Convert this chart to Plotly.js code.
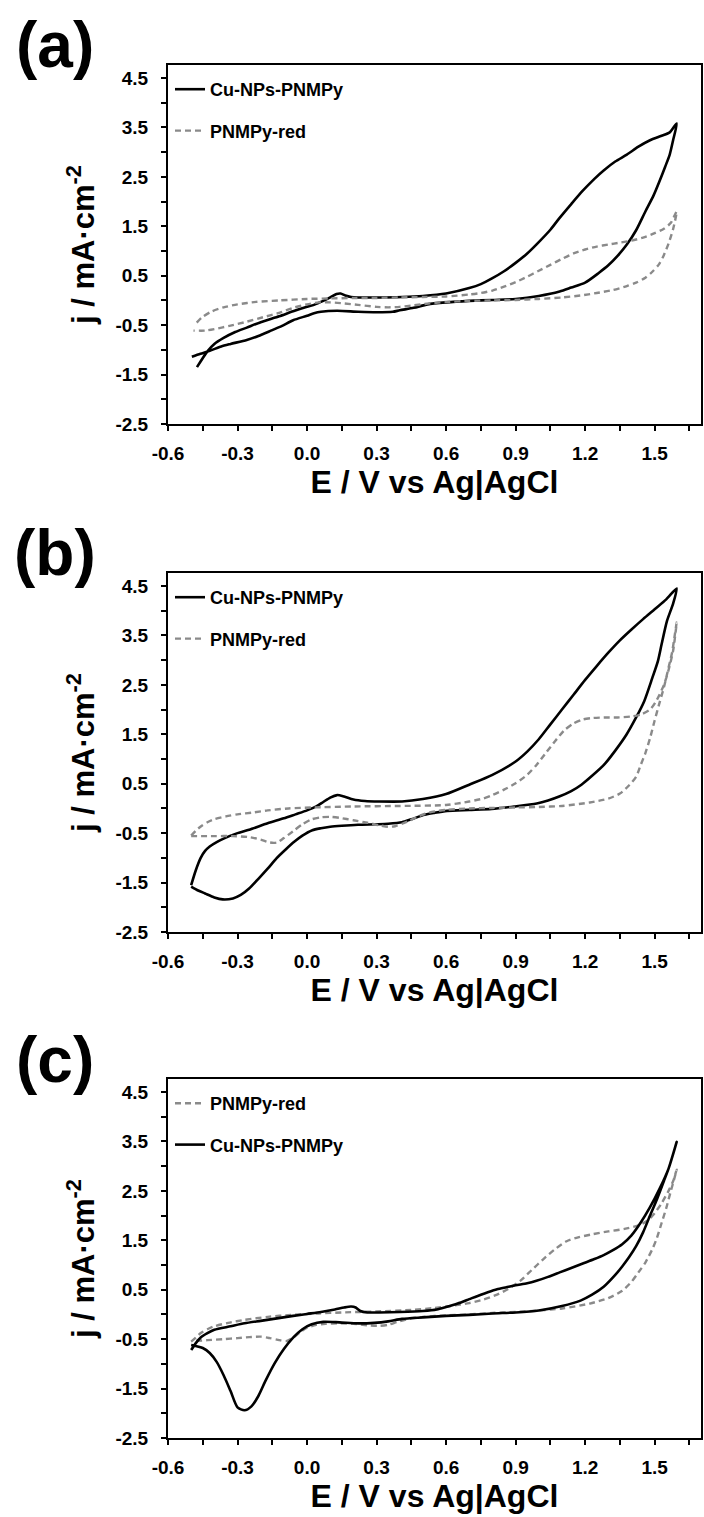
<!DOCTYPE html>
<html><head><meta charset="utf-8">
<script src="https://cdn.plot.ly/plotly-3.0.1.min.js"></script>
<style>html,body{margin:0;padding:0;background:#fff;}#chart{width:704px;height:1517px;}</style>
</head><body><div id="chart"></div>
<script>
// ---------- DATA ----------
const xTickVals = [-0.6, -0.3, 0.0, 0.3, 0.6, 0.9, 1.2, 1.5];
const xTickText = ['-0.6', '-0.3', '0.0', '0.3', '0.6', '0.9', '1.2', '1.5'];
const yTickVals = [-2.5, -1.5, -0.5, 0.5, 1.5, 2.5, 3.5, 4.5];
const yTickText = ['-2.5', '-1.5', '-0.5', '0.5', '1.5', '2.5', '3.5', '4.5'];
const panelLabels = ['(a)', '(b)', '(c)'];
const seriesNames = ['Cu-NPs-PNMPy', 'PNMPy-red'];
const xTitle = 'E / V vs Ag|AgCl';
const yTitle = 'j / mA\u00b7cm<sup>-2</sup>';

// Panel (a) Cu-NPs-PNMPy
const aCuE = [-0.475,-0.43,-0.40,-0.36,-0.31,-0.26,-0.20,-0.12,-0.06,0.00,0.03,0.07,0.10,0.127,0.145,0.165,0.19,0.22,0.30,0.41,0.50,0.60,0.70,0.75,0.80,0.85,0.90,0.95,1.00,1.05,1.09,1.14,1.19,1.24,1.28,1.33,1.38,1.43,1.48,1.53,1.565,1.595,
  1.58,1.565,1.545,1.52,1.495,1.46,1.42,1.38,1.34,1.30,1.26,1.20,1.14,1.09,1.00,0.90,0.80,0.70,0.60,0.52,0.46,0.40,0.37,0.30,0.22,0.13,0.06,0.03,0.00,-0.06,-0.11,-0.15,-0.21,-0.26,-0.33,-0.37,-0.42,-0.46,-0.497];
const aCuJ = [-1.35,-1.03,-0.88,-0.76,-0.64,-0.55,-0.44,-0.32,-0.22,-0.13,-0.09,-0.01,0.06,0.13,0.14,0.10,0.07,0.06,0.06,0.07,0.09,0.14,0.25,0.33,0.45,0.59,0.76,0.95,1.18,1.43,1.67,1.95,2.22,2.46,2.63,2.81,2.95,3.11,3.24,3.33,3.40,3.58,
  3.25,2.95,2.70,2.40,2.12,1.80,1.42,1.13,0.90,0.71,0.56,0.36,0.26,0.18,0.09,0.03,0.01,-0.01,-0.04,-0.08,-0.15,-0.20,-0.23,-0.24,-0.23,-0.21,-0.23,-0.26,-0.31,-0.40,-0.52,-0.60,-0.72,-0.80,-0.88,-0.93,-1.02,-1.08,-1.14];
// Panel (a) PNMPy-red
const aRedE = [-0.476,-0.45,-0.41,-0.36,-0.30,-0.22,-0.12,0.00,0.10,0.20,0.30,0.40,0.50,0.60,0.70,0.75,0.80,0.85,0.90,0.95,1.00,1.05,1.10,1.15,1.20,1.25,1.30,1.35,1.40,1.45,1.50,1.54,1.57,1.595,
  1.58,1.56,1.54,1.52,1.49,1.46,1.42,1.38,1.32,1.25,1.18,1.10,1.00,0.90,0.80,0.70,0.60,0.53,0.46,0.40,0.35,0.30,0.22,0.16,0.10,0.05,0.00,-0.06,-0.12,-0.19,-0.26,-0.33,-0.40,-0.44,-0.49];
const aRedJ = [-0.45,-0.33,-0.22,-0.14,-0.08,-0.03,0.00,0.03,0.04,0.05,0.05,0.06,0.07,0.08,0.12,0.15,0.20,0.28,0.37,0.48,0.60,0.72,0.84,0.95,1.03,1.09,1.13,1.17,1.21,1.27,1.36,1.45,1.57,1.80,
  1.45,1.15,0.92,0.74,0.58,0.46,0.36,0.29,0.21,0.15,0.10,0.06,0.03,0.01,0.00,-0.01,-0.03,-0.06,-0.10,-0.13,-0.14,-0.13,-0.09,-0.06,-0.04,-0.04,-0.08,-0.15,-0.25,-0.34,-0.43,-0.51,-0.58,-0.61,-0.61];

// Panel (b) Cu-NPs-PNMPy
const bCuE = [-0.50,-0.48,-0.46,-0.44,-0.42,-0.39,-0.36,-0.30,-0.25,-0.17,-0.10,-0.05,0.00,0.04,0.07,0.10,0.13,0.16,0.20,0.25,0.31,0.41,0.50,0.60,0.70,0.80,0.90,0.95,1.00,1.05,1.10,1.15,1.20,1.25,1.30,1.35,1.40,1.45,1.50,1.55,1.595,
  1.58,1.553,1.53,1.514,1.49,1.455,1.42,1.378,1.33,1.281,1.23,1.184,1.14,1.088,1.04,0.991,0.894,0.797,0.70,0.604,0.55,0.507,0.45,0.41,0.35,0.30,0.22,0.15,0.10,0.06,0.023,-0.02,-0.054,-0.09,-0.132,-0.17,-0.209,-0.25,-0.286,-0.32,-0.364,-0.40,-0.44,-0.47,-0.50];
const bCuJ = [-1.55,-1.25,-1.01,-0.86,-0.77,-0.68,-0.61,-0.50,-0.43,-0.30,-0.20,-0.12,-0.04,0.04,0.13,0.22,0.27,0.24,0.18,0.15,0.14,0.14,0.19,0.29,0.48,0.68,0.95,1.15,1.40,1.70,2.00,2.30,2.60,2.88,3.15,3.40,3.62,3.83,4.03,4.23,4.45,
  4.15,3.79,3.32,2.98,2.64,2.17,1.84,1.49,1.17,0.88,0.66,0.48,0.35,0.24,0.16,0.10,0.04,-0.01,-0.03,-0.05,-0.09,-0.13,-0.22,-0.28,-0.31,-0.32,-0.33,-0.35,-0.37,-0.40,-0.44,-0.55,-0.67,-0.82,-1.01,-1.22,-1.42,-1.62,-1.75,-1.82,-1.84,-1.80,-1.72,-1.66,-1.58];
// Panel (b) PNMPy-red
const bRedE = [-0.50,-0.48,-0.46,-0.43,-0.40,-0.35,-0.30,-0.23,-0.17,-0.08,0.02,0.20,0.40,0.60,0.70,0.76,0.80,0.85,0.90,0.95,0.99,1.03,1.07,1.11,1.15,1.19,1.23,1.28,1.34,1.40,1.44,1.48,1.51,1.54,1.56,1.58,1.595,
  1.585,1.575,1.56,1.54,1.52,1.50,1.48,1.46,1.44,1.42,1.39,1.35,1.30,1.22,1.10,1.00,0.90,0.80,0.70,0.60,0.53,0.48,0.44,0.41,0.38,0.35,0.31,0.26,0.20,0.14,0.10,0.06,0.02,-0.02,-0.06,-0.10,-0.13,-0.16,-0.20,-0.25,-0.32,-0.40,-0.50];
const bRedJ = [-0.55,-0.45,-0.37,-0.28,-0.22,-0.16,-0.12,-0.08,-0.04,0.00,0.02,0.04,0.05,0.07,0.14,0.20,0.27,0.38,0.51,0.68,0.88,1.12,1.36,1.58,1.72,1.80,1.83,1.84,1.84,1.86,1.90,2.00,2.20,2.50,2.80,3.20,3.76,
  3.45,3.15,2.85,2.45,2.12,1.78,1.42,1.12,0.88,0.64,0.47,0.30,0.20,0.12,0.05,0.03,0.02,0.01,0.00,-0.03,-0.08,-0.16,-0.25,-0.31,-0.36,-0.37,-0.34,-0.29,-0.24,-0.19,-0.17,-0.18,-0.22,-0.32,-0.46,-0.60,-0.69,-0.69,-0.63,-0.58,-0.56,-0.56,-0.56];

// Panel (c) Cu-NPs-PNMPy
const cCuE = [-0.50,-0.48,-0.46,-0.43,-0.40,-0.33,-0.27,-0.20,-0.13,-0.06,0.00,0.06,0.12,0.16,0.19,0.21,0.23,0.26,0.31,0.40,0.50,0.56,0.60,0.65,0.70,0.75,0.78,0.82,0.86,0.90,0.95,0.99,1.04,1.09,1.14,1.19,1.24,1.28,1.32,1.36,1.40,1.44,1.48,1.52,1.56,1.595,
  1.58,1.56,1.54,1.51,1.48,1.45,1.42,1.39,1.36,1.33,1.28,1.23,1.18,1.10,1.00,0.90,0.80,0.70,0.60,0.50,0.41,0.35,0.29,0.22,0.14,0.07,0.02,-0.02,-0.06,-0.10,-0.14,-0.18,-0.21,-0.24,-0.27,-0.30,-0.33,-0.36,-0.39,-0.42,-0.45,-0.48,-0.50];
const cCuJ = [-0.72,-0.58,-0.47,-0.38,-0.31,-0.24,-0.18,-0.13,-0.08,-0.03,0.01,0.05,0.10,0.14,0.16,0.14,0.07,0.04,0.04,0.05,0.07,0.10,0.15,0.22,0.31,0.40,0.45,0.51,0.55,0.59,0.63,0.68,0.76,0.85,0.94,1.03,1.12,1.20,1.30,1.42,1.60,1.86,2.17,2.53,2.95,3.49,
  3.25,2.95,2.70,2.33,2.00,1.66,1.38,1.16,0.97,0.80,0.56,0.40,0.28,0.17,0.08,0.04,0.02,-0.01,-0.03,-0.06,-0.09,-0.14,-0.17,-0.18,-0.16,-0.15,-0.20,-0.30,-0.47,-0.70,-0.99,-1.35,-1.65,-1.86,-1.94,-1.88,-1.55,-1.23,-0.96,-0.78,-0.68,-0.64,-0.62];
// Panel (c) PNMPy-red
const cRedE = [-0.50,-0.48,-0.46,-0.43,-0.40,-0.34,-0.27,-0.17,-0.07,0.05,0.15,0.30,0.45,0.55,0.62,0.70,0.76,0.82,0.87,0.92,0.97,1.02,1.07,1.12,1.17,1.23,1.30,1.37,1.43,1.47,1.50,1.53,1.56,1.58,1.595,
  1.585,1.57,1.55,1.53,1.51,1.49,1.46,1.43,1.40,1.36,1.30,1.22,1.10,1.00,0.90,0.80,0.70,0.60,0.50,0.44,0.39,0.35,0.31,0.26,0.20,0.14,0.08,0.04,0.00,-0.03,-0.06,-0.09,-0.12,-0.16,-0.20,-0.25,-0.30,-0.36,-0.43,-0.50];
const cRedJ = [-0.55,-0.47,-0.38,-0.30,-0.24,-0.17,-0.11,-0.05,-0.01,0.02,0.04,0.06,0.09,0.13,0.17,0.23,0.30,0.40,0.52,0.68,0.90,1.12,1.32,1.48,1.56,1.62,1.68,1.73,1.80,1.90,2.05,2.25,2.50,2.70,2.93,
  2.75,2.50,2.15,1.85,1.55,1.32,1.05,0.85,0.66,0.48,0.33,0.22,0.12,0.08,0.05,0.03,0.00,-0.02,-0.05,-0.09,-0.15,-0.21,-0.23,-0.22,-0.19,-0.18,-0.19,-0.21,-0.27,-0.36,-0.47,-0.54,-0.52,-0.48,-0.45,-0.46,-0.48,-0.50,-0.52,-0.54];

// ---------- LAYOUT / STYLE ----------
const W = 704, H = 1517;
const FONT = '"Liberation Sans", Arial, Helvetica, sans-serif';
const plotLeft = 168, plotRight = 701;
const plotTops = [65, 573, 1079], plotHeight = 359;
const labelCenters = [45, 553, 1060];
const yRange = [-2.5, 4.763], xRange = [-0.6, 1.7];

function px2paperY(y){ return 1 - y / H; }

const solid = {color:'#000000', width:2.6, shape:'spline', smoothing:0.7};
const dashed = {color:'#8a8a8a', width:2.4, dash:'6px,4px', shape:'spline', smoothing:0.7};

const panels = [
  {cu:[aCuE,aCuJ], red:[aRedE,aRedJ], redFirst:false},
  {cu:[bCuE,bCuJ], red:[bRedE,bRedJ], redFirst:false},
  {cu:[cCuE,cCuJ], red:[cRedE,cRedJ], redFirst:true}
];

const traces = [];
const layout = {
  width: W, height: H,
  margin: {l:0, r:0, t:0, b:0},
  paper_bgcolor:'#ffffff', plot_bgcolor:'#ffffff',
  font: {family: FONT, color:'#000000'},
  showlegend: true,
  annotations: [],
};

panels.forEach((p, i) => {
  const n = i === 0 ? '' : String(i + 1);
  const xa = 'x' + n, ya = 'y' + n;
  const lg = 'legend' + n;
  const cuT = {x:p.cu[0], y:p.cu[1], type:'scatter', mode:'lines', name:seriesNames[0], line:solid,
    xaxis:xa, yaxis:ya, legend:lg, legendgroup:'cu'+i, hoverinfo:'skip'};
  const redT = {x:p.red[0], y:p.red[1], type:'scatter', mode:'lines', name:seriesNames[1], line:dashed,
    xaxis:xa, yaxis:ya, legend:lg, legendgroup:'red'+i, hoverinfo:'skip'};
  if (p.redFirst) { traces.push(redT, cuT); } else { traces.push(cuT, redT); }

  const top = plotTops[i], bottom = top + plotHeight;
  const common = {
    showline:true, linewidth:2, linecolor:'#000', mirror:true,
    showgrid:false, zeroline:false,
    ticks:'outside', ticklen:5, tickwidth:2, tickcolor:'#000',
    tickfont:{family:FONT, size:19, weight:700, color:'#000'},
    automargin:false, fixedrange:true
  };
  layout['xaxis' + n] = Object.assign({}, common, {
    domain:[plotLeft / W, plotRight / W], anchor:ya, range:xRange,
    tickmode:'array', tickvals:xTickVals, ticktext:xTickText,
    minor:{tickmode:'linear', tick0:-0.6, dtick:0.15, ticks:'outside', ticklen:5, tickwidth:2, tickcolor:'#000', showgrid:false},
    ticklabelstandoff:6,
    title:{text:xTitle, font:{family:FONT, size:32, weight:700, color:'#000'}, standoff:6}
  });
  layout['yaxis' + n] = Object.assign({}, common, {
    domain:[px2paperY(bottom), px2paperY(top)], anchor:xa, range:yRange,
    tickmode:'array', tickvals:yTickVals, ticktext:yTickText,
    minor:{tickmode:'linear', tick0:-2.5, dtick:0.5, ticks:'outside', ticklen:5, tickwidth:2, tickcolor:'#000', showgrid:false},
    ticklabelstandoff:9,
    title:{text:yTitle, font:{family:FONT, size:31, weight:700, color:'#000'}, standoff:12}
  });
  layout[lg] = {
    x:(plotLeft + 2) / W, xanchor:'left',
    y:px2paperY(top + 6), yanchor:'top',
    bgcolor:'rgba(0,0,0,0)', borderwidth:0,
    font:{family:FONT, size:18, weight:700, color:'#000'},
    traceorder:'grouped', tracegroupgap:15, itemwidth:30
  };
  layout.annotations.push({
    text:panelLabels[i], xref:'paper', yref:'paper',
    x:55 / W, y:px2paperY(labelCenters[i]), xanchor:'center', yanchor:'middle',
    showarrow:false, font:{family:FONT, size:64, weight:700, color:'#000'}
  });
});

Plotly.newPlot('chart', traces, layout, {staticPlot:true, displayModeBar:false});
</script>
</body></html>
